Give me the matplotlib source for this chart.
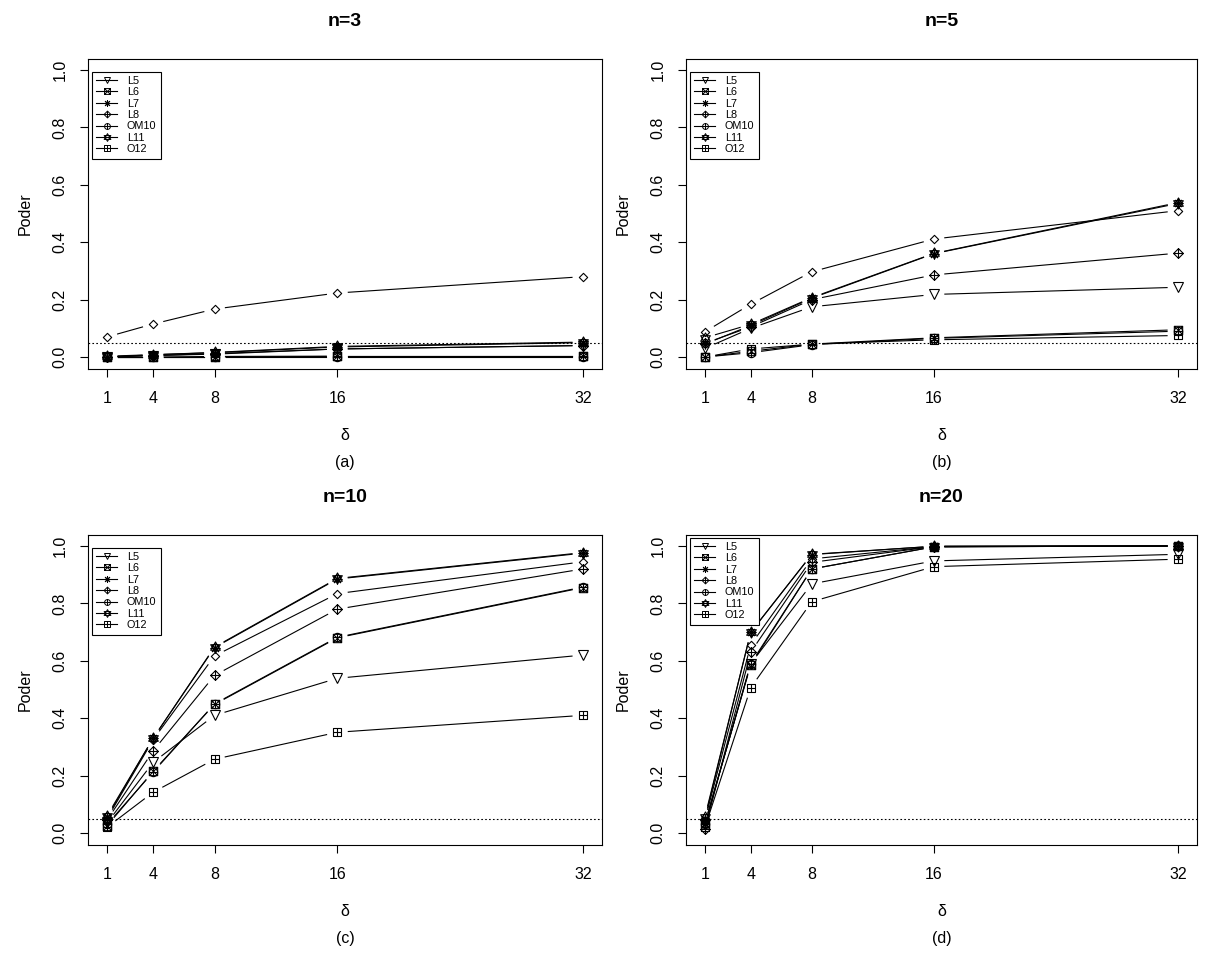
import matplotlib
matplotlib.use('Agg')
import numpy as np
import matplotlib.pyplot as plt
from matplotlib.path import Path
from matplotlib.lines import Line2D

plt.rcParams['font.family'] = ['Liberation Sans', 'DejaVu Sans']

# data (power vs delta, 4 sample sizes)
delta = [1, 4, 8, 16, 32]
labels = ['', 'L5', 'L6', 'L7', 'L8', 'OM10', 'L11', 'O12']  # first series has no legend entry

# rows follow the order of labels
poder_n3 = [
    [0.070, 0.115, 0.167, 0.223, 0.280],
    [0.000, 0.005, 0.010, 0.028, 0.040],
    [0.000, 0.000, 0.000, 0.002, 0.002],
    [0.000, 0.008, 0.015, 0.035, 0.050],
    [0.000, 0.005, 0.012, 0.028, 0.040],
    [0.000, 0.000, 0.000, 0.000, 0.000],
    [0.003, 0.008, 0.016, 0.037, 0.052],
    [0.000, 0.000, 0.002, 0.003, 0.003],
]
poder_n5 = [
    [0.088, 0.184, 0.297, 0.411, 0.510],
    [0.030, 0.100, 0.175, 0.218, 0.243],
    [0.000, 0.020, 0.045, 0.067, 0.095],
    [0.045, 0.110, 0.205, 0.360, 0.535],
    [0.048, 0.105, 0.200, 0.286, 0.362],
    [0.000, 0.015, 0.043, 0.065, 0.090],
    [0.067, 0.114, 0.207, 0.361, 0.538],
    [0.000, 0.028, 0.045, 0.060, 0.075],
]
poder_n10 = [
    [0.050, 0.325, 0.617, 0.834, 0.945],
    [0.035, 0.246, 0.410, 0.539, 0.620],
    [0.025, 0.215, 0.448, 0.680, 0.855],
    [0.055, 0.330, 0.646, 0.885, 0.975],
    [0.045, 0.286, 0.549, 0.780, 0.920],
    [0.030, 0.212, 0.450, 0.682, 0.857],
    [0.060, 0.330, 0.648, 0.887, 0.977],
    [0.020, 0.142, 0.257, 0.351, 0.410],
]
poder_n20 = [
    [0.045, 0.655, 0.955, 0.998, 1.000],
    [0.030, 0.590, 0.868, 0.948, 0.971],
    [0.035, 0.585, 0.920, 0.997, 1.000],
    [0.050, 0.700, 0.970, 0.999, 1.000],
    [0.013, 0.630, 0.943, 0.998, 1.000],
    [0.030, 0.590, 0.920, 0.997, 1.000],
    [0.057, 0.699, 0.971, 0.999, 1.000],
    [0.020, 0.506, 0.806, 0.928, 0.954],
]
titles = ['n=3', 'n=5', 'n=10', 'n=20']
tags = ['(a)', '(b)', '(c)', '(d)']
alpha_level = 0.05


def seg(p0, p1):
    return Path([p0, p1], [Path.MOVETO, Path.LINETO])


def poly(verts):
    verts = list(verts) + [verts[0]]
    codes = [Path.MOVETO] + [Path.LINETO] * (len(verts) - 2) + [Path.CLOSEPOLY]
    return Path(verts, codes)


square = [(-1, -1), (1, -1), (1, 1), (-1, 1)]
diamond = [(0, 1), (1, 0), (0, -1), (-1, 0)]
tri_up = [(0, 1), (-0.866, -0.5), (0.866, -0.5)]
tri_dn = [(0, -1), (0.866, 0.5), (-0.866, 0.5)]
plus = [seg((-1, 0), (1, 0)), seg((0, -1), (0, 1))]

m_diamond = poly(diamond)
m_square_x = Path.make_compound_path(poly(square), seg((-1, -1), (1, 1)), seg((-1, 1), (1, -1)))
m_diamond_plus = Path.make_compound_path(poly(diamond), *plus)
m_circle_plus = Path.make_compound_path(Path.unit_circle(), *plus)
m_star = Path.make_compound_path(poly(tri_up), poly(tri_dn))
m_square_plus = Path.make_compound_path(poly(square), *plus)

markers = [m_diamond, 'v', m_square_x, (8, 2, 0), m_diamond_plus, m_circle_plus, m_star, m_square_plus]
msizes = [6, 7, 6, 7, 7, 6, 8, 6]

W, H = 1225, 965
fig = plt.figure(figsize=(W / 100, H / 100), dpi=100)
fig.patch.set_facecolor('white')


def fx(px):
    return px / W


def fy(py):
    return 1 - py / H


# plot boxes in pixels: left, top, right, bottom
boxes = [(88, 58.5, 602, 368.5), (686, 58.5, 1197, 368.5),
         (88, 534.5, 602, 844.5), (686, 534.5, 1197, 844.5)]
legend_tl = [(92, 71.5), (690, 71.5), (92, 547.5), (690, 537.5)]
gap = 11


def draw_gapped(ax, x, y):
    # R type="b": line segments stop short of the points
    pts = ax.transData.transform(np.column_stack([x, y]))
    inv = ax.transData.inverted()
    for p0, p1 in zip(pts[:-1], pts[1:]):
        d = p1 - p0
        L = np.hypot(*d)
        if L <= 2 * gap:
            continue
        u = d / L
        a, b = inv.transform([p0 + u * gap, p1 - u * gap])
        ax.plot([a[0], b[0]], [a[1], b[1]], color='black', lw=0.8)


all_data = [poder_n3, poder_n5, poder_n10, poder_n20]
for k, data in enumerate(all_data):
    l, t, r, b = boxes[k]
    ax = fig.add_axes([fx(l), fy(b), fx(r) - fx(l), (b - t) / H])
    ax.set_xlim(1 - 0.04 * 31, 32 + 0.04 * 31)
    ax.set_ylim(-0.04, 1.04)
    for s in ax.spines.values():
        s.set_linewidth(0.8)

    for i, row in enumerate(data):
        draw_gapped(ax, delta, row)
    for i, row in enumerate(data):
        ax.plot(delta, row, ls='none', marker=markers[i], ms=msizes[i],
                mfc='none', mec='black', mew=0.8)
    ax.axhline(alpha_level, color='black', lw=0.8, ls=(0, (1.5, 2)))

    ax.set_xticks(delta)
    ax.set_xticklabels([str(d) for d in delta])
    yt = [0, 0.2, 0.4, 0.6, 0.8, 1.0]
    ax.set_yticks(yt)
    ax.set_yticklabels(['%.1f' % v for v in yt], rotation=90, va='center')
    ax.tick_params(axis='both', length=5.5, width=0.8, labelsize=11.5)
    ax.tick_params(axis='x', pad=11)
    ax.tick_params(axis='y', pad=9)

    handles = [Line2D([0], [0], color='black', lw=0.8, marker=markers[i],
                      ms=msizes[i] * 0.7, mfc='none', mec='black', mew=0.7)
               for i in range(1, len(labels))]
    lx, ly = legend_tl[k]
    leg = ax.legend(handles, labels[1:], loc='upper left', bbox_to_anchor=(fx(lx), fy(ly)),
                    bbox_transform=fig.transFigure, borderaxespad=0, fontsize=7.8,
                    frameon=True, fancybox=False, framealpha=1, edgecolor='black',
                    handlelength=1.9, handletextpad=0.9, labelspacing=0.13, borderpad=0.4)
    leg.get_frame().set_linewidth(0.8)

    cx = (l + r) / 2
    cy = (t + b) / 2
    fig.text(fx(cx), fy(t - 36.5), titles[k], ha='center', va='center',
             fontsize=14, fontweight='bold')
    fig.text(fx(cx), fy(b + 67.5), 'δ', ha='center', va='center', fontsize=11.5)
    fig.text(fx(cx), fy(b + 93.5), tags[k], ha='center', va='center', fontsize=11.5)
    fig.text(fx(l - 63), fy(cy), 'Poder', ha='center', va='center',
             rotation=90, fontsize=11.5)

fig.savefig('out.png', dpi=100)
